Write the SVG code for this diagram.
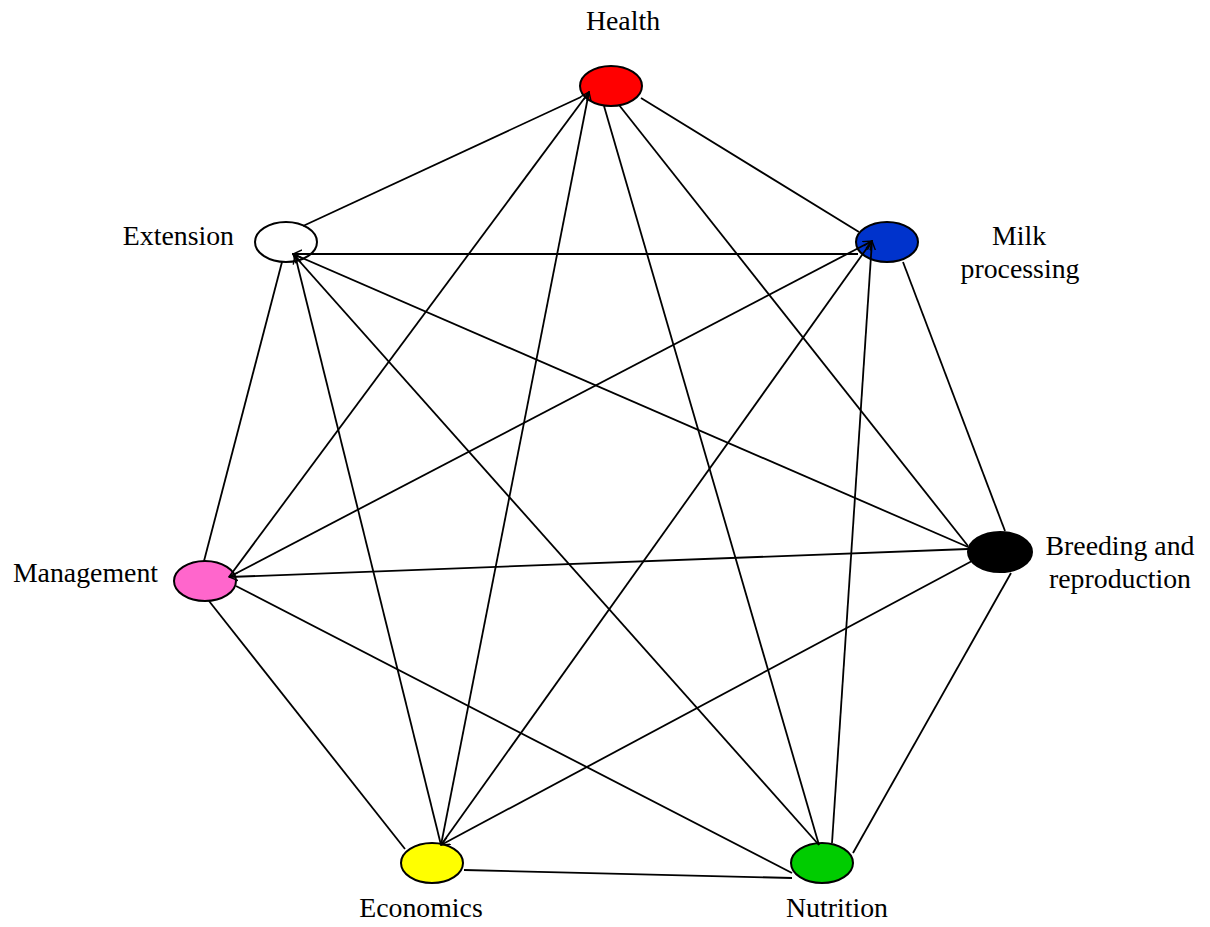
<svg xmlns="http://www.w3.org/2000/svg" width="1210" height="927" viewBox="0 0 1210 927">
<style>
.n{stroke:#000;stroke-width:2}
.c line{stroke:#000;stroke-width:1.8}
text{font-family:"Liberation Serif","Times New Roman",serif;font-size:27.8px;fill:#000}
</style>
<defs>
<marker id="a" markerWidth="10" markerHeight="10" refX="9" refY="5" orient="auto" markerUnits="userSpaceOnUse">
<path d="M0,1 L9,5 L0,9" fill="none" stroke="#000" stroke-width="1.4"/>
</marker>
</defs>
<rect width="1210" height="927" fill="#fff"/>
<g id="health"><ellipse class="n" cx="611" cy="86" rx="31" ry="20" fill="#ff0000"/><text x="623" y="30" text-anchor="middle">Health</text></g>
<g id="extension"><ellipse class="n" cx="286" cy="242" rx="31" ry="20" fill="#fff"/><text x="234" y="245" text-anchor="end">Extension</text></g>
<g id="milk"><ellipse class="n" cx="887" cy="242" rx="31" ry="20" fill="#0033cc"/><text x="1019" y="245" text-anchor="middle">Milk</text><text x="1020" y="278" text-anchor="middle">processing</text></g>
<g id="breeding"><ellipse class="n" cx="1000" cy="552" rx="32" ry="20" fill="#000"/><text x="1120" y="555" text-anchor="middle">Breeding and</text><text x="1120" y="588" text-anchor="middle">reproduction</text></g>
<g id="management"><ellipse class="n" cx="205" cy="581" rx="31" ry="20" fill="#ff66cc"/><text x="158" y="582" text-anchor="end">Management</text></g>
<g id="economics"><ellipse class="n" cx="432" cy="863" rx="31" ry="20" fill="#ffff00"/><text x="421" y="917" text-anchor="middle">Economics</text></g>
<g id="nutrition"><ellipse class="n" cx="822" cy="863" rx="31" ry="20" fill="#00cc00"/><text x="837" y="917" text-anchor="middle">Nutrition</text></g>
<g class="c" id="connectors">
<line x1="229" y1="577" x2="589" y2="92" marker-end="url(#a)"/>
<line x1="441" y1="845" x2="589" y2="92" marker-end="url(#a)"/>
<line x1="581" y1="97" x2="303" y2="226"/>
<line x1="604" y1="106" x2="819" y2="845"/>
<line x1="619" y1="105" x2="968" y2="546"/>
<line x1="641" y1="98" x2="859" y2="232"/>
<line x1="858" y1="254" x2="293" y2="254" marker-end="url(#a)"/>
<line x1="968" y1="547" x2="293" y2="254" marker-end="url(#a)"/>
<line x1="819" y1="845" x2="293" y2="254" marker-end="url(#a)"/>
<line x1="441" y1="845" x2="295" y2="255" marker-end="url(#a)"/>
<line x1="282" y1="262" x2="204" y2="561"/>
<line x1="229" y1="577" x2="872" y2="241" marker-end="url(#a)"/>
<line x1="441" y1="845" x2="872" y2="241" marker-end="url(#a)"/>
<line x1="832" y1="843" x2="872" y2="241" marker-end="url(#a)"/>
<line x1="903" y1="262" x2="1005" y2="531"/>
<line x1="968" y1="549" x2="229" y2="577" marker-end="url(#a)"/>
<line x1="972" y1="561" x2="441" y2="845" marker-end="url(#a)"/>
<line x1="1011" y1="573" x2="853" y2="853"/>
<line x1="209" y1="601" x2="405" y2="849"/>
<line x1="236" y1="586" x2="792" y2="873"/>
<line x1="464" y1="870" x2="792" y2="878"/>
</g>
</svg>
